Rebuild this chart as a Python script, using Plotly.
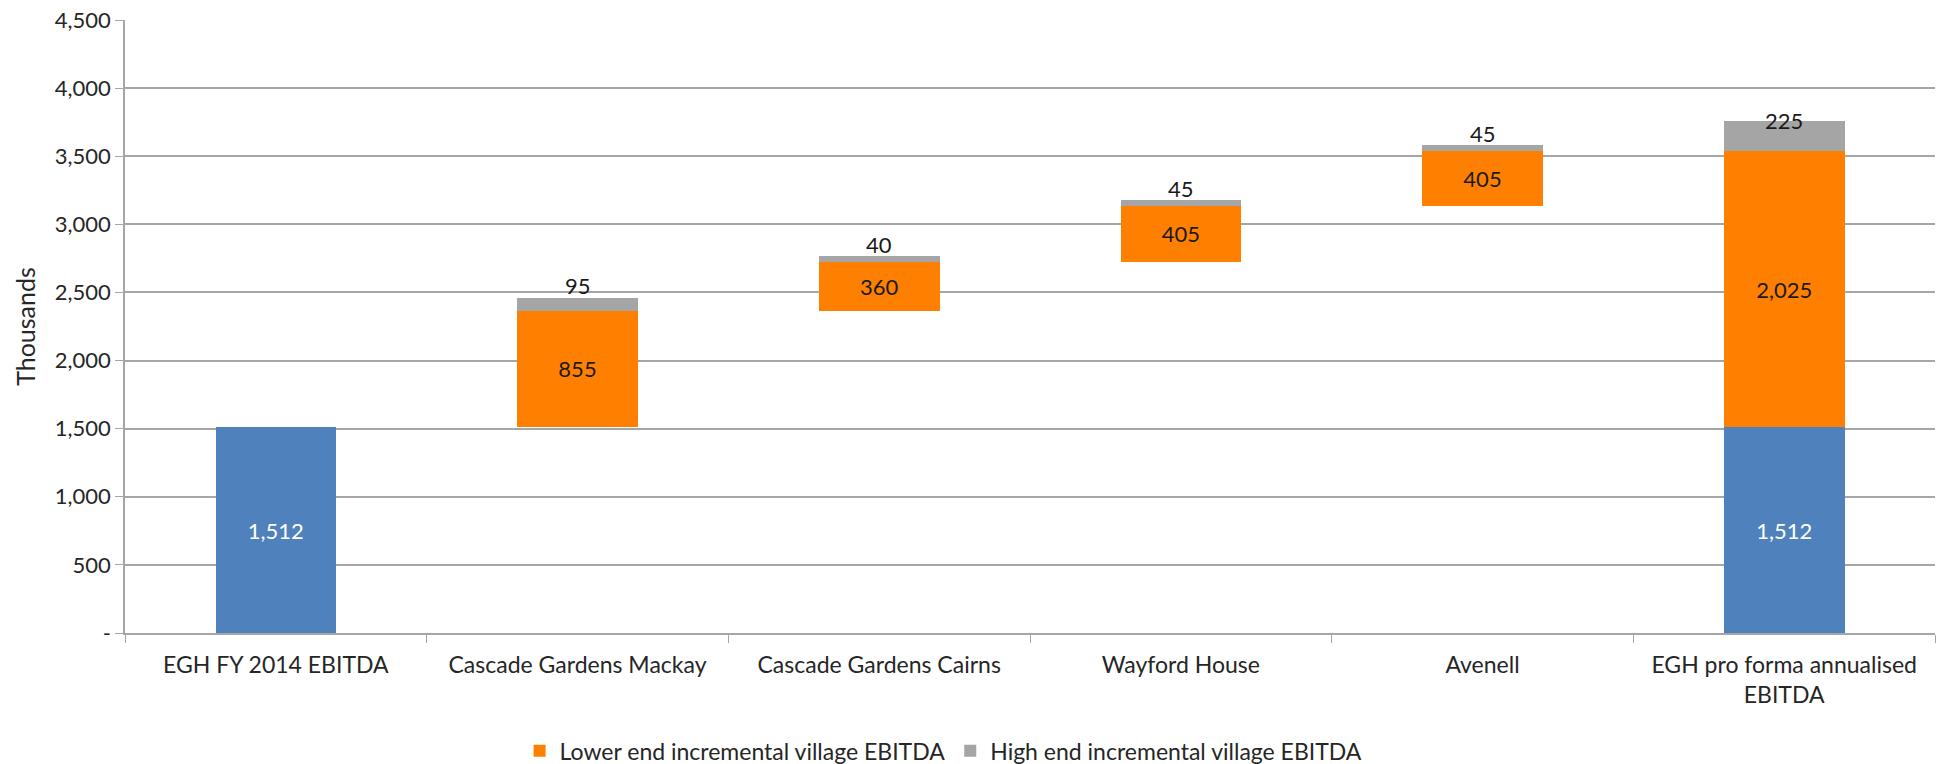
import plotly.graph_objects as go

categories = ["EGH FY 2014 EBITDA", "Cascade Gardens Mackay", "Cascade Gardens Cairns",
              "Wayford House", "Avenell", "EGH pro forma annualised<br>EBITDA"]
base_ebitda = [1512, None, None, None, None, 1512]
lower_end = [None, 855, 360, 405, 405, 2025]
high_end = [None, 95, 40, 45, 45, 225]
y_ticks = [0, 500, 1000, 1500, 2000, 2500, 3000, 3500, 4000, 4500]
y_tick_labels = ["-", "500", "1,000", "1,500", "2,000", "2,500", "3,000", "3,500", "4,000", "4,500"]

# invisible offsets for the waterfall (cumulative lower-end values)
offsets = []
running = 0
for i in range(len(categories)):
    if base_ebitda[i] is not None:
        if i == 0:
            running = base_ebitda[i]
        offsets.append(0)
    else:
        offsets.append(running)
        running += lower_end[i]

BLUE = "#4F81BD"
ORANGE = "#FF8000"
GRAY = "#A5A5A5"
FONT = "Lato"

def fmt(v):
    return f"{v:,}"

fig = go.Figure()
fig.add_trace(go.Bar(x=categories, y=offsets, marker=dict(color="rgba(0,0,0,0)", line=dict(width=0)),
                     showlegend=False, hoverinfo="skip"))
fig.add_trace(go.Bar(x=categories, y=base_ebitda, marker=dict(color=BLUE, line=dict(width=0)),
                     showlegend=False,
                     text=[fmt(v) if v else "" for v in base_ebitda],
                     textposition="inside", insidetextanchor="middle",
                     textfont=dict(color="white", size=22, family=FONT)))
fig.add_trace(go.Bar(x=categories, y=lower_end, marker=dict(color=ORANGE, line=dict(width=0)),
                     name="Lower end incremental village EBITDA",
                     text=[fmt(v) if v else "" for v in lower_end],
                     textposition="inside", insidetextanchor="middle",
                     textfont=dict(color="#1a1a1a", size=22, family=FONT)))
fig.add_trace(go.Bar(x=categories, y=high_end, marker=dict(color=GRAY, line=dict(width=0)),
                     name="High end incremental village EBITDA"))

ppu = (764 - 20 - 131) / 4500.0
for i, c in enumerate(categories):
    if high_end[i] is None:
        continue
    bottom = (base_ebitda[i] or 0) + offsets[i] + lower_end[i]
    top = bottom + high_end[i]
    seg_px = high_end[i] * ppu
    shift = 12 if seg_px < 22 else 0
    fig.add_annotation(x=c, y=top, text=fmt(high_end[i]), showarrow=False,
                       yanchor="middle", yshift=shift,
                       font=dict(size=22, color="#1a1a1a", family=FONT))

fig.update_layout(
    width=1941, height=764,
    margin=dict(l=125, r=6, t=20, b=131, autoexpand=False),
    barmode="stack", bargap=0.6,
    plot_bgcolor="white", paper_bgcolor="white",
    font=dict(family=FONT, size=20, color="#262626"),
    legend=dict(orientation="h", x=0.218, xanchor="left",
                y=-0.192, yanchor="middle",
                font=dict(size=23, family=FONT), traceorder="normal", itemwidth=30),
    showlegend=True,
)
fig.update_yaxes(range=[0, 4500], tickvals=y_ticks, ticktext=y_tick_labels,
                 showgrid=True, gridcolor="#A6A6A6", gridwidth=1.5,
                 showline=True, linecolor="#A6A6A6", linewidth=1.5,
                 ticks="outside", ticklen=8, tickcolor="#A6A6A6",
                 tickfont=dict(size=22, family=FONT), automargin=False,
                 title=dict(text="Thousands", font=dict(size=25, family=FONT), standoff=12),
                 zeroline=False)
fig.update_xaxes(showline=True, linecolor="#A6A6A6", linewidth=2, automargin=False,
                 ticks="outside", tickson="boundaries", ticklen=8, tickcolor="#A6A6A6",
                 tickfont=dict(size=23, family=FONT), ticklabelstandoff=10)

fig.write_html("out.html")
